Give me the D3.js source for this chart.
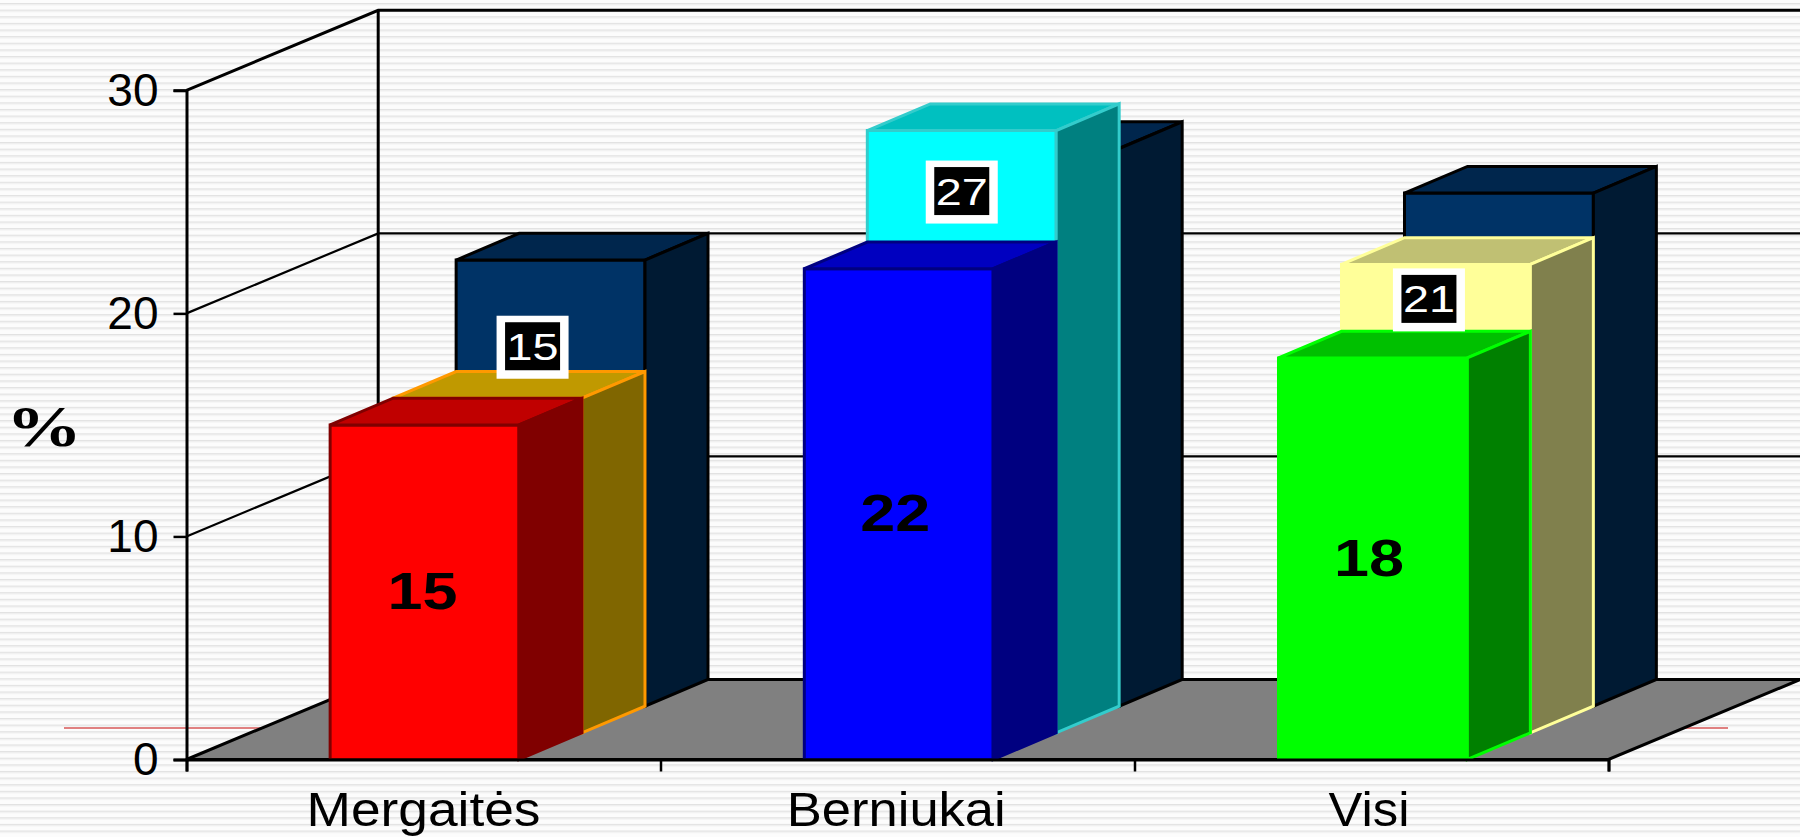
<!DOCTYPE html>
<html>
<head>
<meta charset="utf-8">
<title>Chart</title>
<script src="https://cdn.jsdelivr.net/npm/d3@7"></script>
<style>
	html, body { margin: 0; padding: 0; background: #fff; overflow: hidden; }
	svg { display: block; }
	text { font-family: "Liberation Sans", Arial, sans-serif; }
	.axis path { stroke: #000; stroke-width: 3px; }
	.axis line { stroke: #000; stroke-width: 2.5px; }
</style>
</head>
<body>
<svg width="1800" height="837"></svg>
<script>
var categories = ['Mergaitės', 'Berniukai', 'Visi'];
var frontValues = [15, 22, 18];
var middleValues = [15, 27, 21];
var backValues = [20, 25, 23];
var yTicks = [0, 10, 20, 30];

// face colours per bar: front, top, side, stroke
var frontColors = [
	['#ff0000', '#c00000', '#800000', '#800000'],
	['#0000ff', '#0000c0', '#000080', '#000080'],
	['#00ff00', '#00c000', '#008000', '#00ff00']
];
var middleColors = [
	['#ff9900', '#c09900', '#806600', '#ff9900'],
	['#00ffff', '#00c0c0', '#008080', '#33cccc'],
	['#ffff99', '#c0c073', '#80804d', '#ffff99']
];
var backColors = ['#003366', '#00264d', '#001a33', '#000000'];

// hand placed boxes of the middle row, from the top of each bar's front
var boxOffsets = [[45, -50.5], [0, 62], [-7, 36]];
// drawn widths of the stretched category names
var labelWidths = [234, 219, 81];

var svg = d3.select('svg');

var y = d3.scaleLinear().domain([0, 30]).range([759.5, 90.3]);
var xCat = d3.scaleLinear().domain([0, 3]).range([186.5, 1608.5]);
var xBand = d3.scaleBand().domain(categories).range([187.5, 1610]).paddingInner(0.6017).paddingOuter(0.3008);
var xLabel = d3.scalePoint().domain(categories).range([423.5, 1369]);
var depthX = d3.scaleLinear().domain([0, 3]).range([0, 189]);
var depthY = d3.scaleLinear().domain([0, 3]).range([0, -80]);
var wallX = 191.7;

var poly = d3.line().curve(d3.curveLinearClosed);

//background stripes
var stripes = svg.append('defs').append('pattern')
	.attr('id', 'stripes')
	.attr('patternUnits', 'userSpaceOnUse')
	.attr('width', 20)
	.attr('height', 6.62)
	.attr('y', 3);
stripes.append('rect').attr('width', 20).attr('height', 6.62).attr('fill', '#fcfcfc');
stripes.append('rect').attr('width', 20).attr('height', 1.5).attr('fill', '#e2e2e2');
stripes.append('rect').attr('y', 1.5).attr('width', 20).attr('height', 1).attr('fill', '#f4f4f4');

svg.append('rect').attr('width', 1800).attr('height', 837).attr('fill', 'url(#stripes)');

//red rule of the slide
svg.append('line')
	.attr('x1', 64).attr('x2', 1728)
	.attr('y1', 728).attr('y2', 728)
	.attr('stroke', '#e08080')
	.attr('stroke-width', 2);

//walls
var wall = svg.append('g').attr('fill', 'none').attr('stroke', '#000');
wall.selectAll('path.grid')
	.data(yTicks.slice(1))
	.enter()
	.append('path')
	.attr('class', 'grid')
	.attr('stroke-width', function(d){ return d == 30 ? 3 : 2.2; })
	.attr('d', function(d){
		return d3.line()([
			[xCat(0), y(d)],
			[xCat(0) + wallX, y(d) + depthY(3)],
			[1800, y(d) + depthY(3)]
		]);
	});
wall.append('line')
	.attr('x1', xCat(0) + wallX).attr('x2', xCat(0) + wallX)
	.attr('y1', y(30) + depthY(3)).attr('y2', y(0) + depthY(3))
	.attr('stroke-width', 3);

//floor
svg.append('path')
	.attr('d', poly([
		[xCat(0), y(0)],
		[xCat(0) + wallX, y(0) + depthY(3)],
		[xCat(3) + wallX, y(0) + depthY(3)],
		[xCat(3), y(0)]
	]))
	.attr('fill', '#808080')
	.attr('stroke', '#000')
	.attr('stroke-width', 3);

//axes
var yAxis = d3.axisLeft(y).tickValues(yTicks).tickSize(13).tickPadding(15);
svg.append('g').attr('class', 'axis')
	.attr('transform', 'translate(' + xCat(0) + ',0)')
	.call(yAxis)
	.selectAll('text')
	.attr('fill', '#000')
	.style('font-size', '46px');

var drawBar = function(cat, value, row, colors){
	var x0 = xBand(cat) + depthX(row);
	var x1 = x0 + xBand.bandwidth();
	var base = y(0) + depthY(row);
	var top = base - (y(0) - y(value));
	var dx = depthX(1);
	var dy = depthY(1);

	var g = svg.append('g')
		.attr('stroke', colors[3])
		.attr('stroke-width', 3)
		.attr('stroke-linejoin', 'miter');

	g.append('path')
		.attr('fill', colors[0])
		.attr('d', poly([[x0, top], [x1, top], [x1, base], [x0, base]]));
	g.append('path')
		.attr('fill', colors[1])
		.attr('d', poly([[x0, top], [x0 + dx, top + dy], [x1 + dx, top + dy], [x1, top]]));
	g.append('path')
		.attr('fill', colors[2])
		.attr('d', poly([[x1, top], [x1 + dx, top + dy], [x1 + dx, base + dy], [x1, base]]));
};

//back to front
categories.forEach(function(cat, i){ drawBar(cat, backValues[i], 2, backColors); });
categories.forEach(function(cat, i){ drawBar(cat, middleValues[i], 1, middleColors[i]); });
categories.forEach(function(cat, i){ drawBar(cat, frontValues[i], 0, frontColors[i]); });

//x axis goes over the bars' feet
var xAxis = d3.axisBottom(xCat).tickValues([0, 1, 2, 3]).tickSize(12).tickFormat('');
svg.append('g').attr('class', 'axis')
	.attr('transform', 'translate(0,' + y(0) + ')')
	.call(xAxis);

svg.selectAll('text.category')
	.data(categories)
	.enter()
	.append('text')
	.attr('class', 'category')
	.attr('x', function(d){ return xLabel(d); })
	.attr('y', 826)
	.attr('text-anchor', 'middle')
	.attr('font-size', 49)
	.attr('textLength', function(d, i){ return labelWidths[i]; })
	.attr('lengthAdjust', 'spacingAndGlyphs')
	.attr('fill', '#000')
	.text(function(d){ return d; });

//labels of the front row
svg.selectAll('text.frontLabel')
	.data(frontValues)
	.enter()
	.append('text')
	.attr('class', 'frontLabel')
	.attr('x', function(d, i){ return xLabel(categories[i]) - 1 + (i == 2 ? 1 : 0); })
	.attr('y', function(d){ return (y(d) + y(0)) / 2 + 17; })
	.attr('text-anchor', 'middle')
	.attr('font-size', 52)
	.attr('font-weight', 'bold')
	.attr('textLength', 70)
	.attr('lengthAdjust', 'spacingAndGlyphs')
	.attr('fill', '#000')
	.text(function(d){ return d; });

//boxed labels of the middle row
var boxes = svg.selectAll('g.box')
	.data(middleValues)
	.enter()
	.append('g')
	.attr('class', 'box')
	.attr('transform', function(d, i){
		var cx = xBand(categories[i]) + xBand.bandwidth() / 2 + depthX(1) + boxOffsets[i][0];
		var cy = y(d) + depthY(1) + boxOffsets[i][1];
		return 'translate(' + cx + ',' + cy + ')';
	});
boxes.append('rect')
	.attr('x', -36).attr('y', -32).attr('width', 72).attr('height', 63)
	.attr('fill', '#fff');
boxes.append('rect')
	.attr('x', -27.5).attr('y', -25.5).attr('width', 55).attr('height', 48)
	.attr('fill', '#000');
boxes.append('text')
	.attr('text-anchor', 'middle')
	.attr('y', 12)
	.attr('font-size', 37)
	.attr('textLength', 52)
	.attr('lengthAdjust', 'spacingAndGlyphs')
	.attr('fill', '#fff')
	.text(function(d){ return d; });

//axis title
svg.append('text')
	.attr('x', 44)
	.attr('y', 446)
	.attr('text-anchor', 'middle')
	.attr('font-size', 58)
	.attr('font-weight', 'bold')
	.attr('textLength', 76)
	.attr('lengthAdjust', 'spacingAndGlyphs')
	.style('font-family', '"Liberation Serif", serif')
	.attr('fill', '#000')
	.text('%');
</script>
</body>
</html>
